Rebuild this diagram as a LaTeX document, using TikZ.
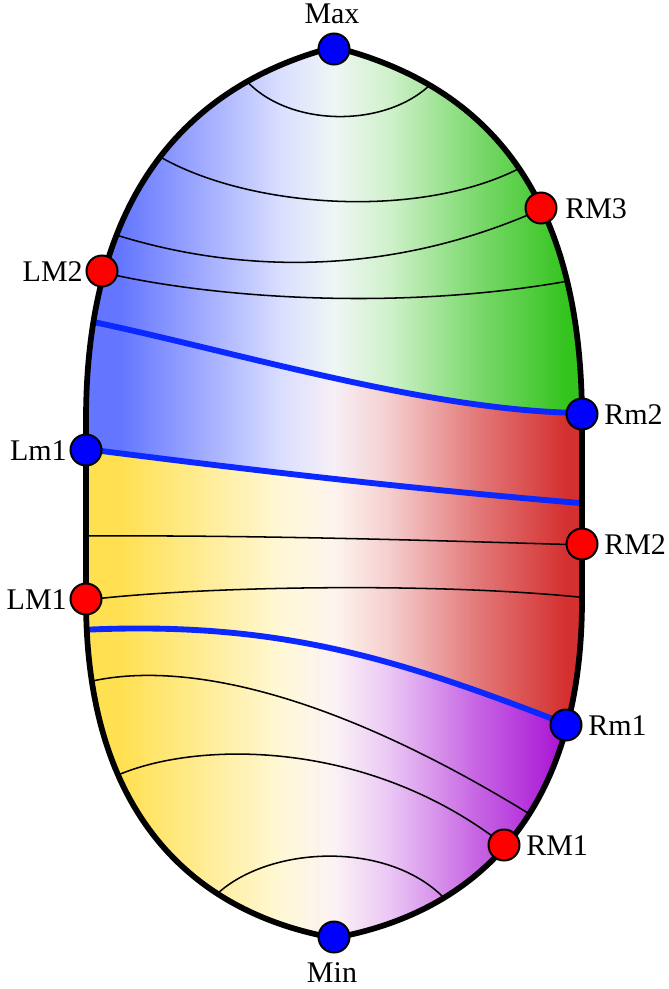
\documentclass[tikz,border=0pt]{standalone}
\usepackage{fontspec}
\setmainfont{Liberation Serif}
\usetikzlibrary{calc}
\definecolor{cblue}{RGB}{100,118,255}
\definecolor{cgreen}{RGB}{52,196,30}
\definecolor{cred}{RGB}{212,48,48}
\definecolor{cyel}{RGB}{255,224,80}
\definecolor{cpur}{RGB}{168,16,212}
\definecolor{sepblue}{RGB}{10,40,255}
\definecolor{nblue}{RGB}{0,0,255}
\definecolor{nred}{RGB}{255,0,0}
\newcommand\paintregion[2]{%
  \colorlet{ctrtmp}{#1!50!#2}%
  \colorlet{ctr}{ctrtmp!9!white}%
  \fill[#1] (0,0) rectangle (121,989);
  \shade[left color=#1, right color=#1!62!white] (120,0) rectangle (201,989);
  \shade[left color=#1!62!white, right color=#1!24!white] (200,0) rectangle (281,989);
  \shade[left color=#1!24!white, right color=ctr] (280,0) rectangle (334.5,989);
  \shade[left color=ctr, right color=#2!24!white] (334,0) rectangle (391,989);
  \shade[left color=#2!24!white, right color=#2!62!white] (390,0) rectangle (471,989);
  \shade[left color=#2!62!white, right color=#2] (470,0) rectangle (566,989);
  \fill[#2] (565,0) rectangle (668,989);
}
\begin{document}
\begin{tikzpicture}[x=0.75pt,y=-0.75pt,
  fieldline/.style={line width=1.15pt, black},
  sepline/.style={line width=4.4pt, sepblue},
  outl/.style={line width=4.3pt, black, line join=round},
  crit/.style={circle, draw=black, line width=1.5pt, minimum size=23.25pt, inner sep=0pt},
  mx/.style={crit, fill=nblue},
  mn/.style={crit, fill=nred},
  lab/.style={inner sep=0pt, font=\fontsize{22.5}{27}\selectfont}
]
\useasboundingbox (0,0) rectangle (668,989);

\begin{scope}
\clip (334,47) .. controls (188,85) and (86,195) .. (86,420) -- (86,600)
  .. controls (86,800) and (180,910) .. (334,938)
  .. controls (488,910) and (582,800) .. (582,600) -- (582,420)
  .. controls (582,190) and (484,85) .. (334,47) -- cycle;
% region D
\paintregion{cyel}{cpur}
% region C
\begin{scope}
\clip (80,630) .. controls (280,620) and (400,660) .. (566,724) -- (580,729)
  -- (668,729) -- (668,0) -- (0,0) -- (0,630) -- cycle;
\paintregion{cyel}{cred}
\end{scope}
% region B
\begin{scope}
\clip (78,448) .. controls (250,470) and (420,490) .. (592,504)
  -- (668,504) -- (668,0) -- (0,0) -- (0,448) -- cycle;
\paintregion{cblue}{cred}
\end{scope}
% region A
\begin{scope}
\clip (84,320) .. controls (230,350) and (430,412) .. (584,413) -- (600,413)
  -- (668,413) -- (668,0) -- (0,0) -- (0,320) -- cycle;
\paintregion{cblue}{cgreen}
\end{scope}

% thin level lines
\draw[fieldline] (244,78) .. controls (285,127) and (385,130) .. (432,83);
\draw[fieldline] (152,152) .. controls (240,208) and (420,222) .. (524,166);
\draw[fieldline] (110,233) .. controls (230,272) and (385,280) .. (544,208);
\draw[fieldline] (101,272) .. controls (210,298) and (400,312) .. (574,280);
\draw[fieldline] (82,536) .. controls (250,535) and (420,540) .. (584,545);
\draw[fieldline] (86,600) .. controls (200,586) and (440,582) .. (588,598);
\draw[fieldline] (88,682) .. controls (180,660) and (330,690) .. (536,818);
\draw[fieldline] (118,775) .. controls (200,740) and (370,740) .. (504,845);
\draw[fieldline] (217,894) .. controls (270,845) and (390,840) .. (446,900);

% separatrices
\draw[sepline] (84,320) .. controls (230,350) and (430,412) .. (584,413) -- (600,413);
\draw[sepline] (78,448) .. controls (250,470) and (420,490) .. (592,504);
\draw[sepline] (80,630) .. controls (280,620) and (400,660) .. (566,724);
\end{scope}

% outline
\draw[outl] (334,47) .. controls (188,85) and (86,195) .. (86,420) -- (86,600)
  .. controls (86,800) and (180,910) .. (334,938)
  .. controls (488,910) and (582,800) .. (582,600) -- (582,420)
  .. controls (582,190) and (484,85) .. (334,47) -- cycle;

% critical points
\node[mx] (Max) at (334,49) {};
\node[mx] (Min) at (334,937) {};
\node[mn] (RMthree) at (541,208) {};
\node[mn] (LMtwo) at (102,271) {};
\node[mx] (Rmtwo) at (582,414) {};
\node[mx] (Lmone) at (86,450) {};
\node[mn] (RMtwo) at (582,544) {};
\node[mn] (LMone) at (86,599) {};
\node[mx] (Rmone) at (566,725) {};
\node[mn] (RMone) at (504,845) {};

% labels
\node[lab, anchor=base] (tMax) at ($(Max)+(-2,-26)$) {Max};
\node[lab, anchor=base] (tMin) at ($(Min)+(-2,45)$) {Min};
\node[lab, anchor=base west] (tRMthree) at ($(RMthree)+(24,10)$) {RM3};
\node[lab, anchor=base east] (tLMtwo) at ($(LMtwo)+(-19,10)$) {LM2};
\node[lab, anchor=base west] (tRmtwo) at ($(Rmtwo)+(22,10)$) {Rm2};
\node[lab, anchor=base east] (tLmone) at ($(Lmone)+(-19,10)$) {Lm1};
\node[lab, anchor=base west] (tRMtwo) at ($(RMtwo)+(22,10)$) {RM2};
\node[lab, anchor=base east] (tLMone) at ($(LMone)+(-19,10)$) {LM1};
\node[lab, anchor=base west] (tRmone) at ($(Rmone)+(22,10)$) {Rm1};
\node[lab, anchor=base west] (tRMone) at ($(RMone)+(22,10)$) {RM1};
\end{tikzpicture}
\end{document}
